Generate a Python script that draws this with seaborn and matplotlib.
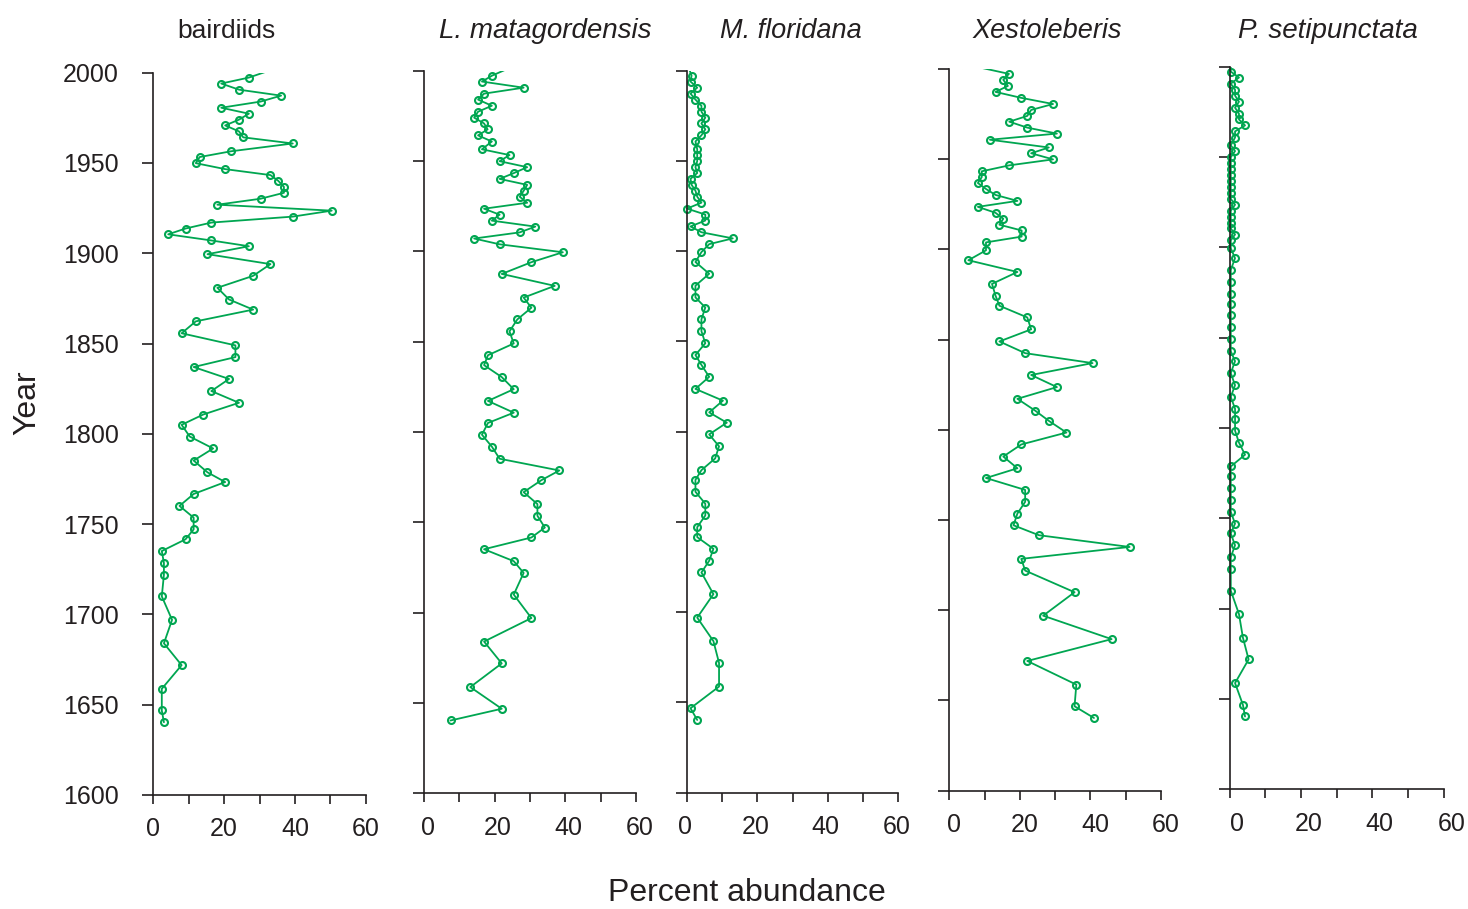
import matplotlib
matplotlib.use("Agg")
import matplotlib.pyplot as plt
from matplotlib.patches import Rectangle
from matplotlib.transforms import ScaledTranslation
import pandas as pd
import seaborn as sns

# Sample ages (years AD), core top first
years = [2003.0, 1997.3, 1994.0, 1990.6, 1987.3, 1984.0, 1980.6, 1977.3, 1974.0, 1970.8,
         1967.5, 1964.2, 1960.8, 1956.5, 1953.3, 1949.9, 1946.6, 1943.3, 1940.1, 1936.8,
         1933.5, 1930.2, 1926.9, 1923.6, 1920.3, 1917.0, 1913.7, 1910.5, 1907.1, 1903.9,
         1899.5, 1894.0, 1887.5, 1880.9, 1874.4, 1868.8, 1862.3, 1855.7, 1849.0, 1842.5,
         1837.0, 1830.4, 1823.7, 1817.2, 1810.7, 1805.0, 1798.5, 1791.9, 1785.2, 1778.7,
         1773.3, 1766.7, 1760.1, 1753.6, 1747.1, 1741.6, 1735.1, 1728.5, 1722.0, 1710.0,
         1697.0, 1684.0, 1671.9, 1658.8, 1646.8, 1640.3]

# Percent abundance per taxon, same order as years
bairdiids = [35.5,
             27.0, 19.2, 24.2, 36.1, 30.3, 19.2, 27.0, 24.2, 20.3, 24.2,
             25.4, 39.4, 22.0, 13.1, 12.0, 20.3, 33.1, 35.3, 36.9, 36.9,
             30.3, 18.1, 50.4, 39.4, 16.4, 9.1, 4.2, 16.4, 27.0, 15.3,
             33.1, 28.2, 18.1, 21.4, 28.2, 12.0, 8.0, 23.2, 23.2, 11.4,
             21.4, 16.4, 24.2, 14.1, 8.0, 10.3, 16.9, 11.4, 15.3, 20.3,
             11.4, 7.4, 11.4, 11.4, 9.1, 2.4, 3.0, 3.0, 2.4, 5.3,
             3.0, 8.0, 2.4, 2.4, 3.0]

l_matagordensis = [25.9,
                   19.3, 16.4, 28.2, 17.0, 15.3, 19.2, 15.3, 14.2, 17.0, 18.0,
                   15.3, 19.2, 16.4, 24.2, 21.4, 29.2, 25.4, 21.4, 29.2, 28.2,
                   27.1, 29.2, 17.0, 21.4, 19.2, 31.5, 27.1, 14.2, 21.4, 39.3,
                   30.4, 22.0, 37.0, 28.2, 30.4, 26.4, 24.2, 25.4, 18.1, 17.0,
                   22.0, 25.4, 18.1, 25.4, 18.1, 16.4, 19.2, 21.4, 38.3, 33.2,
                   28.2, 32.1, 32.1, 34.2, 30.4, 17.0, 25.4, 28.2, 25.4, 30.4,
                   17.0, 22.0, 13.1, 22.0, 7.5]

m_floridana = [0.2,
               1.3, 1.0, 2.9, 1.0, 2.4, 4.1, 4.1, 5.2, 4.1, 5.2,
               4.1, 2.4, 2.9, 2.9, 2.9, 2.4, 2.9, 1.0, 1.3, 2.4,
               2.9, 4.1, 0.0, 5.2, 5.2, 1.0, 4.1, 13.0, 6.3, 4.1,
               2.4, 6.3, 2.4, 2.4, 5.2, 4.1, 4.1, 5.2, 2.4, 4.1,
               6.3, 2.4, 10.2, 6.3, 11.3, 6.3, 9.1, 8.0, 4.1, 2.4,
               2.4, 5.2, 5.2, 2.9, 2.9, 7.5, 6.3, 4.1, 7.5, 2.9,
               7.5, 9.1, 9.1, 1.0, 2.9]

xestoleberis = [3.6,
                16.9, 15.3, 16.6, 13.1, 20.4, 29.4, 23.2, 22.1, 17.0, 22.1,
                30.5, 11.5, 28.2, 23.2, 29.4, 17.0, 9.2, 9.2, 8.1, 10.4,
                13.1, 19.3, 8.1, 13.1, 15.3, 14.2, 20.5, 20.5, 10.4, 10.4,
                5.4, 19.3, 12.1, 13.1, 14.2, 22.1, 23.2, 14.2, 21.5, 40.6,
                23.2, 30.5, 19.3, 24.3, 28.2, 33.2, 20.4, 15.3, 19.3, 10.4,
                21.5, 21.5, 19.3, 18.2, 25.4, 51.1, 20.4, 21.5, 35.5, 26.6,
                46.0, 22.1, 36.0, 35.5, 41.0]

p_setipunctata = [0.3,
                  0.3, 2.6, 0.3, 1.5, 1.5, 2.6, 1.5, 2.6, 2.6, 4.3,
                  1.5, 1.5, 0.3, 1.5, 0.3, 0.3, 0.3, 0.3, 0.3, 0.3,
                  0.3, 0.3, 1.5, 0.3, 0.3, 0.3, 0.3, 1.5, 0.3, 0.3,
                  1.5, 0.3, 0.3, 0.3, 0.3, 0.3, 0.3, 0.3, 0.3, 1.5,
                  0.3, 1.5, 0.3, 1.5, 1.5, 1.5, 2.6, 4.3, 0.3, 0.3,
                  0.3, 0.3, 0.3, 1.5, 0.3, 1.5, 0.3, 0.3, 0.3, 2.6,
                  3.7, 5.3, 1.5, 3.7, 4.3]

taxa = ["bairdiids", "L. matagordensis", "M. floridana", "Xestoleberis", "P. setipunctata"]
italic_names = [False, True, True, True, True]
year_ticks = [1600, 1650, 1700, 1750, 1800, 1850, 1900, 1950, 2000]
pct_ticks = [0, 10, 20, 30, 40, 50, 60]
pct_labels = ["0", "", "20", "", "40", "", "60"]

series = [bairdiids, l_matagordensis, m_floridana, xestoleberis, p_setipunctata]
long = pd.concat(
    [pd.DataFrame({"taxon": name, "Year": years, "pct": vals}) for name, vals in zip(taxa, series)],
    ignore_index=True,
)

sns.set_style("ticks")
plt.rcParams["font.family"] = ["Liberation Sans", "DejaVu Sans"]

W, H = 1468, 909
fig = plt.figure(figsize=(W / 100, H / 100), dpi=100)

# panel frames in pixels: (x of 0, x of 60, y of 2000, y of 1600)
panel_px = [(153.3, 365.7, 72.7, 795.0),
            (424.0, 636.0, 70.7, 793.3),
            (687.0, 898.3, 70.7, 792.7),
            (949.3, 1161.0, 69.0, 790.7),
            (1229.7, 1443.7, 66.7, 789.3)]
xlabel_shift_px = [0.0, 3.5, -2.0, 5.0, 7.5]
title_x_px = [226, 545, 791, 1047, 1328]
title_size = [19, 20, 19.5, 19.5, 20]
title_base_px = 38

ink = "#231f20"
green = "#00a651"

for i, name in enumerate(taxa):
    x0, x1, y0, y1 = panel_px[i]
    ax = fig.add_axes([x0 / W, 1 - y1 / H, (x1 - x0) / W, (y1 - y0) / H])
    sub = long[long["taxon"] == name]
    sns.lineplot(data=sub, x="pct", y="Year", orient="y", sort=False, estimator=None,
                 color=green, linewidth=1.3, marker="o", markersize=5.0,
                 markerfacecolor="none", markeredgecolor=green, markeredgewidth=1.5,
                 legend=False, ax=ax)
    ax.set_xlim(0, 60)
    ax.set_ylim(1600, 2000)
    ax.set_xticks(pct_ticks)
    ax.set_xticklabels(pct_labels)
    ax.set_yticks(year_ticks)
    if i == 0:
        ax.set_yticklabels([str(t) for t in year_ticks])
    else:
        ax.set_yticklabels([])
    ax.set_xlabel("")
    ax.set_ylabel("")
    sns.despine(ax=ax)
    for side in ("left", "bottom"):
        ax.spines[side].set_linewidth(1.2)
        ax.spines[side].set_color(ink)
    ax.tick_params(axis="y", length=7.7, width=1.2, color=ink, pad=17,
                   labelsize=18, labelcolor=ink)
    ax.tick_params(axis="x", length=6.5, width=1.2, color=ink, pad=9.5,
                   labelsize=18, labelcolor=ink)

    # clip the series at the top of the panel but let markers sit over the axis
    clip = Rectangle((-4, 1590), 70, 410, transform=ax.transData)
    for line in ax.lines:
        line.set_clip_path(clip)

    shift = ScaledTranslation(xlabel_shift_px[i] / 100, 0, fig.dpi_scale_trans)
    for lbl in ax.get_xticklabels():
        lbl.set_transform(lbl.get_transform() + shift)

    fig.text(title_x_px[i] / W, 1 - title_base_px / H, name, ha="center", va="baseline",
             fontsize=title_size[i], color=ink,
             style="italic" if italic_names[i] else "normal")

fig.text(27 / W, 1 - 403 / H, "Year", rotation=90, ha="center", va="center",
         fontsize=23, color=ink)
fig.text(747 / W, 1 - 893 / H, "Percent abundance", ha="center", va="center",
         fontsize=23, color=ink)

fig.savefig("out.png", dpi=100, facecolor="white")
